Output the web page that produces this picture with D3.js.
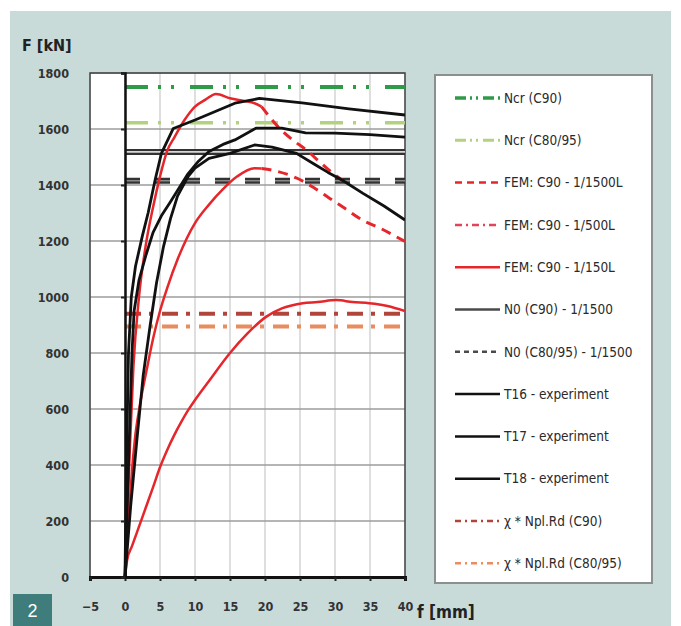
<!DOCTYPE html>
<html><head><meta charset="utf-8">
<script src="https://cdn.jsdelivr.net/npm/d3@7"></script>
<style>
body{margin:0;background:#fff}
svg{display:block}
text{font-family:"DejaVu Sans Condensed","DejaVu Sans",sans-serif;font-stretch:condensed}
</style></head>
<body><svg id="chart" width="681" height="626"></svg>
<script>
// ---- data ----
const xTicks = [-5, 0, 5, 10, 15, 20, 25, 30, 35, 40];
const yTicks = [0, 200, 400, 600, 800, 1000, 1200, 1400, 1600, 1800];

// horizontal reference levels [kN]
const ncrC90 = 1750;
const ncrC8095 = 1622;
const n0C90 = 1518;
const n0C8095 = 1415;
const nplC90 = 940;
const nplC8095 = 895;

// experiments [f mm, F kN]
const t16 = [[0,0],[0.2,400],[0.5,800],[0.9,1000],[1.5,1110],[2.5,1220],[3.3,1300],[4.3,1418],[5.2,1513],[6.9,1602],[10,1632],[15.7,1692],[19.2,1709],[25.3,1693],[32,1672],[40,1650]];
const t17 = [[0,0],[0.5,400],[1,800],[1.3,950],[2,1060],[3,1150],[4,1230],[5.2,1290],[6.5,1340],[7.5,1380],[9,1440],[10.5,1485],[12,1520],[14,1545],[15.7,1561],[18.7,1603],[22.4,1603],[25.8,1586],[30,1585],[35,1580],[40,1571]];
const t18 = [[0,0],[0.8,250],[1.7,490],[2.6,720],[3.6,900],[4.5,1050],[5.5,1180],[6.5,1280],[7.5,1360],[9,1430],[10,1460],[12,1495],[15,1513],[18.5,1543],[21,1535],[24.5,1513],[27,1475],[29,1445],[31,1418],[34,1370],[37,1325],[40,1275]];

// FEM curves: rising (solid) part and falling (dashed) part
const fem1500Rise = [[0,0],[0.6,400],[1.2,750],[2,1000],[3,1190],[4,1320],[5,1430],[6,1520],[7.1,1572],[8.5,1632],[10,1680],[11.5,1705],[13,1725],[15,1710],[17,1700],[18.5,1692],[19.5,1680]];
const fem1500Fall = [[19.5,1680],[22.1,1602],[24,1560],[25.9,1525],[27.8,1483],[29.7,1442],[31,1418]];
const fem500Rise = [[0,0],[0.5,200],[1,380],[1.4,489],[2.1,610],[3.1,740],[4,850],[5,950],[6,1030],[7.6,1140],[10,1264],[12,1330],[14,1385],[16,1430],[18.5,1460],[19.5,1459]];
const fem500Fall = [[19.5,1459],[21,1453],[24.5,1425],[27,1390],[29.2,1353],[31.5,1315],[33.9,1275],[36.5,1245],[40,1198]];
const fem150 = [[0,0],[0.3,60],[1,110],[2,180],[3,250],[4,320],[5,392],[6,452],[7,505],[8,552],[9,595],[10,632],[12,700],[15,800],[17.5,870],[20.2,930],[22.5,960],[25.4,978],[27.5,982],[30.2,989],[32.5,982],[34.9,978],[37.5,968],[40,950]];

const legendNames = ["Ncr (C90)","Ncr (C80/95)","FEM: C90 - 1/1500L","FEM: C90 - 1/500L","FEM: C90 - 1/150L","N0 (C90) - 1/1500","N0 (C80/95) - 1/1500","T16 - experiment","T17 - experiment","T18 - experiment","χ * Npl.Rd (C90)","χ * Npl.Rd (C80/95)"];

// ---- styles ----
const C = {
  green:"#2f9a48", lgreen:"#b3d27f", red:"#e5262b", pink:"#e0455a", grey:"#4a4a4a",
  black:"#111", dred:"#b2453b", orange:"#e98c5f"
};
const legendStyles = [
  {c:C.green,w:3.5,d:"11,4,2,4,2,5"},
  {c:C.lgreen,w:3,d:"11,4,2,4,2,5"},
  {c:C.red,w:2.5,d:"7,5"},
  {c:C.pink,w:2.5,d:"7,4,2,4"},
  {c:C.red,w:2.5,d:null},
  {c:C.grey,w:2.5,d:null},
  {c:C.grey,w:2.5,d:"5,4"},
  {c:C.black,w:2.5,d:null},
  {c:C.black,w:2.5,d:null},
  {c:C.black,w:2.5,d:null},
  {c:C.dred,w:2.5,d:"6,4,2,4"},
  {c:C.orange,w:2.5,d:"6,4,2,4"}
];

// ---- drawing ----
const svg = d3.select("#chart");
svg.append("rect").attr("x",10).attr("y",11).attr("width",661).attr("height",615).attr("fill","#c8dbd9");

const x = d3.scaleLinear().domain([-5,40]).range([90,405]);
const y = d3.scaleLinear().domain([0,1800]).range([577,73]);

// plot background
svg.append("rect").attr("x",x(-5)).attr("y",y(1800)).attr("width",x(40)-x(-5)).attr("height",y(0)-y(1800)).attr("fill","#fff");

// grid
svg.append("g").selectAll("line").data(xTicks).join("line")
  .attr("x1",d=>x(d)).attr("x2",d=>x(d)).attr("y1",y(0)).attr("y2",y(1800))
  .attr("stroke","#c9c9c9").attr("stroke-width",1.2);
svg.append("g").selectAll("line").data(yTicks).join("line")
  .attr("x1",x(-5)).attr("x2",x(40)).attr("y1",d=>y(d)).attr("y2",d=>y(d))
  .attr("stroke","#9d9d9d").attr("stroke-width",1.3);

// frame
svg.append("rect").attr("x",x(-5)).attr("y",y(1800)).attr("width",x(40)-x(-5)).attr("height",y(0)-y(1800))
  .attr("fill","none").attr("stroke","#444").attr("stroke-width",1.5);

svg.append("clipPath").attr("id","clip").append("rect")
  .attr("x",x(-5)).attr("y",y(1800)).attr("width",x(40)-x(-5)).attr("height",y(0)-y(1800));
const plot = svg.append("g").attr("clip-path","url(#clip)");

const hline = (val, color, w, dash) => plot.append("line")
  .attr("x1",x(0)).attr("x2",x(40)).attr("y1",y(val)).attr("y2",y(val))
  .attr("stroke",color).attr("stroke-width",w).attr("stroke-dasharray",dash);

// reference levels
hline(ncrC90, C.green, 4, "23,10,3,10,3,16");
hline(ncrC8095, C.lgreen, 3.5, "23,10,3,10,3,16");
hline(nplC90, C.dred, 4, "16,8,4,9");
hline(nplC8095, C.orange, 4, "16,8,4,9");
// compound grey lines
hline(n0C90, "#333", 6, null);
hline(n0C90, "#d8d8d8", 1.8, null);
hline(n0C8095, "#333", 6, "15,15");
hline(n0C8095, "#8a8a8a", 1.5, "15,15");

const lineLin = d3.line().x(d=>x(d[0])).y(d=>y(d[1]));
const lineSm = d3.line().x(d=>x(d[0])).y(d=>y(d[1])).curve(d3.curveMonotoneX);
const curve = (data, gen, color, w, dash) => plot.append("path").datum(data)
  .attr("d",gen).attr("fill","none").attr("stroke",color).attr("stroke-width",w)
  .attr("stroke-dasharray",dash).attr("stroke-linejoin","round");

curve(fem150, lineSm, C.red, 2.5, null);
curve(fem500Rise, lineSm, C.red, 2.5, null);
curve(fem500Fall, lineSm, C.red, 3, "10,7");
curve(fem1500Rise, lineSm, C.red, 2.5, null);
curve(fem1500Fall, lineSm, C.red, 3, "10,7");
curve(t18, lineLin, C.black, 2.8, null);
curve(t17, lineLin, C.black, 2.8, null);
curve(t16, lineLin, C.black, 2.8, null);

// axes
const gx = svg.append("g").attr("transform",`translate(0,${y(0)})`)
  .call(d3.axisBottom(x).tickValues(xTicks).tickSize(4).tickPadding(21).tickFormat(d3.format("d")));
gx.select(".domain").attr("stroke","#111").attr("stroke-width",3);
gx.selectAll(".tick line").attr("stroke","#222").attr("stroke-width",2);
gx.selectAll("text").attr("font-size",12.5).attr("font-weight","bold").attr("fill","#333")
  .attr("font-family",'"DejaVu Sans Condensed","DejaVu Sans",sans-serif');

const gy = svg.append("g").attr("transform",`translate(${x(0)},0)`)
  .call(d3.axisLeft(y).tickValues(yTicks).tickSize(4).tickFormat(d3.format("d")));
gy.select(".domain").attr("stroke","#111").attr("stroke-width",2.5);
gy.selectAll(".tick line").attr("stroke","#222").attr("stroke-width",2);
gy.selectAll("text").attr("x", 69 - x(0)).attr("font-size",12.5).attr("font-weight","bold").attr("fill","#333")
  .attr("font-family",'"DejaVu Sans Condensed","DejaVu Sans",sans-serif');

// axis titles
svg.append("text").attr("x",22).attr("y",51).attr("font-size",16).attr("font-weight","bold").attr("fill","#222").text("F [kN]");
svg.append("text").attr("x",417).attr("y",618).attr("font-size",17).attr("font-weight","bold").attr("fill","#222").text("f [mm]");

// legend
svg.append("rect").attr("x",435).attr("y",75).attr("width",217).attr("height",508)
  .attr("fill","#fff").attr("stroke","#8a9090").attr("stroke-width",2);
const lg = svg.append("g").selectAll("g").data(legendNames).join("g")
  .attr("transform",(d,i)=>`translate(0,${98 + i*42.3})`);
lg.append("line").attr("x1",455).attr("x2",500).attr("y1",0).attr("y2",0)
  .attr("stroke",(d,i)=>legendStyles[i].c).attr("stroke-width",(d,i)=>legendStyles[i].w)
  .attr("stroke-dasharray",(d,i)=>legendStyles[i].d);
lg.append("text").attr("x",504).attr("y",0).attr("dy","0.35em").attr("font-size",13.5)
  .attr("fill","#2a2a2a").text(d=>d);

// figure badge
svg.append("rect").attr("x",13).attr("y",594).attr("width",39).attr("height",32).attr("fill","#3e7d7b");
svg.append("text").attr("x",32.5).attr("y",617).attr("text-anchor","middle").attr("font-size",18)
  .attr("fill","#fff").style("font-family","'Liberation Sans',Arial,sans-serif").style("font-stretch","normal").text("2");
</script>
</body></html>
